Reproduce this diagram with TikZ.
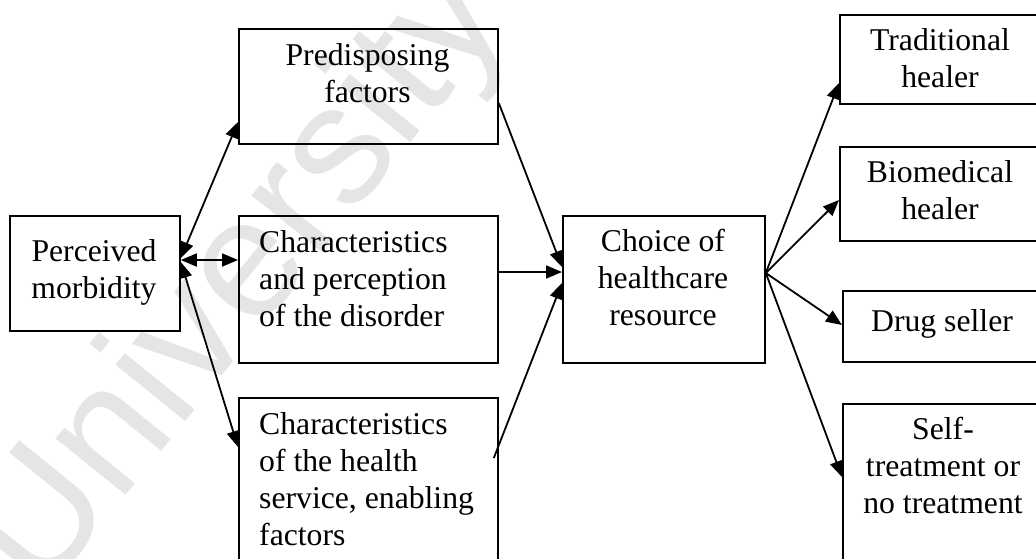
\documentclass[tikz,border=0pt]{standalone}
\usepackage{fontspec}
\setmainfont{Liberation Serif}
\newfontfamily\marksans{Liberation Sans}
\usetikzlibrary{arrows.meta}
\begin{document}
\begin{tikzpicture}[x=1pt,y=-1pt,
  box/.style={draw, line width=1.8pt, inner sep=0pt, anchor=north west},
  lbl/.style={inner sep=0pt, font=\fontsize{31.7}{37}\selectfont,
              execute at begin node=\strut},
  lblc/.style={lbl, anchor=north, align=center},
  lbll/.style={lbl, anchor=north west, align=left},
  tip/.tip={Triangle[length=16pt,width=13pt]},
  link/.style={line width=1.8pt, -tip},
  both/.style={line width=1.8pt, tip-tip}]

\useasboundingbox (0,0) rectangle (1036,558);

% faint background mark
\node[rotate=51, text=black!10, inner sep=0pt,
      font=\marksans\fontsize{170}{170}\selectfont] (wm) at (242,282) {University};

% boxes
\node[box, minimum width=170pt, minimum height=115pt] (pm)  at (9,215)   {};
\node[box, minimum width=259pt, minimum height=115pt] (pre) at (238,28)  {};
\node[box, minimum width=259pt, minimum height=147pt] (chd) at (238,215) {};
\node[box, minimum width=259pt, minimum height=200pt] (chs) at (238,397) {};
\node[box, minimum width=202pt, minimum height=147pt] (cho) at (562,215) {};
\node[box, minimum width=205pt, minimum height=89pt]  (tra) at (839,14)  {};
\node[box, minimum width=205pt, minimum height=94pt]  (bio) at (839,146) {};
\node[box, minimum width=202pt, minimum height=71pt]  (drg) at (842,290) {};
\node[box, minimum width=202pt, minimum height=200pt] (slf) at (842,403) {};

% labels
\node[lblc] (pm-t)  at (94,239)    {Perceived\\morbidity};
\node[lblc] (pre-t) at (367.5,43)  {Predisposing\\factors};
\node[lbll] (chd-t) at (259,230)   {Characteristics\\and perception\\of the disorder};
\node[lbll] (chs-t) at (259,412)   {Characteristics\\of the health\\service, enabling\\factors};
\node[lblc] (cho-t) at (663,229)   {Choice of\\healthcare\\resource};
\node[lblc] (tra-t) at (940,28)    {Traditional\\healer};
\node[lblc] (bio-t) at (940,160)   {Biomedical\\healer};
\node[lblc] (drg-t) at (942,305)   {Drug seller};
\node[lblc] (slf-t) at (943,417)   {Self-\\treatment or\\no treatment};

% perceived morbidity <-> influencing factors
\draw[both] ([yshift=-43pt]pm.north east) -- ([yshift=-94pt]pre.north west);
\draw[both] ([yshift=-45pt]pm.north east) -- ([yshift=-45pt]chd.north west);
\draw[both] ([yshift=-47pt]pm.north east) -- ([yshift=-50pt]chs.north west);

% factors -> choice
\draw[link] ([yshift=-75pt]pre.north east) -- ([yshift=-52pt]cho.north west);
\draw[link] ([yshift=-57pt]chd.north east) -- ([yshift=-57pt]cho.north west);
\draw[link] ([xshift=-5pt,yshift=-61pt]chs.north east) -- ([yshift=-68pt]cho.north west);

% choice -> resources
\coordinate (fan) at ([yshift=-58pt]cho.north east);
\draw[link] (fan) -- ([yshift=-69pt]tra.north west);
\draw[link] (fan) -- ([yshift=-54pt]bio.north west);
\draw[link] (fan) -- ([yshift=-35pt]drg.north west);
\draw[link] (fan) -- ([yshift=-74pt]slf.north west);
\end{tikzpicture}
\end{document}
